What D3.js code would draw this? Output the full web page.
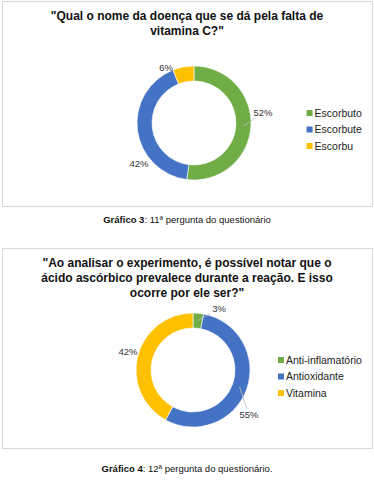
<!DOCTYPE html>
<html>
<head>
<meta charset="utf-8">
<script src="https://cdn.jsdelivr.net/npm/d3@7"></script>
<style>
  body { margin: 0; background: #fff; }
  svg { display: block; font-family: "Liberation Sans", Arial, sans-serif; }
</style>
</head>
<body>
<script>
// chart data
var q1Title = ['"Qual o nome da doença que se dá pela falta de', 'vitamina C?"'];
var q1Categories = ['Escorbuto', 'Escorbute', 'Escorbu'];
var q1Values = [52, 42, 6];
var q1Caption = ['Gráfico 3', ': 11ª pergunta do questionário'];

var q2Title = ['"Ao analisar o experimento, é possível notar que o',
               'ácido ascórbico prevalece durante a reação. E isso',
               'ocorre por ele ser?"'];
var q2Categories = ['Anti-inflamatório', 'Antioxidante', 'Vitamina'];
var q2Values = [3, 55, 42];
var q2Caption = ['Gráfico 4', ': 12ª pergunta do questionário.'];

var W = 374, H = 480;

var svg = d3.select('body').append('svg')
    .attr('width', W)
    .attr('height', H);

// layout for each panel; label offsets (dx,dy from centre) mimic Excel "best fit"
var panels = [
  {
    title: q1Title, cats: q1Categories, vals: q1Values, caption: q1Caption,
    colors: ['#70ad47', '#4472c4', '#ffc000'],
    box: {x: 2, y: 1, w: 370, h: 205},
    titleY: 20, cx: 194, cy: 123, captionY: 223,
    labels: [[69, -10, true], [-55, 41, false], [-28, -55, false]]
  },
  {
    title: q2Title, cats: q2Categories, vals: q2Values, caption: q2Caption,
    colors: ['#70ad47', '#4472c4', '#ffc000'],
    box: {x: 2, y: 248, w: 370, h: 200},
    titleY: 267, cx: 193, cy: 370, captionY: 472,
    labels: [[26, -61, true], [56, 45, true], [-65, -18, false]]
  }
];

var rOuter = 57, rInner = 42;

var pie = d3.pie().sort(null).value(function (d) { return d; });
var arc = d3.arc().innerRadius(rInner).outerRadius(rOuter);
var midArc = d3.arc().innerRadius((rInner + rOuter) / 2).outerRadius((rInner + rOuter) / 2);

panels.forEach(function (p) {
  var g = svg.append('g');

  g.append('rect')
    .attr('x', p.box.x + 0.5)
    .attr('y', p.box.y + 0.5)
    .attr('width', p.box.w)
    .attr('height', p.box.h)
    .attr('fill', '#fff')
    .attr('stroke', '#d9d9d9')
    .attr('stroke-width', 1);

  // title
  g.selectAll('text.title')
    .data(p.title)
    .enter()
    .append('text')
    .attr('class', 'title')
    .attr('x', W / 2)
    .attr('y', function (d, i) { return p.titleY + i * 15; })
    .attr('text-anchor', 'middle')
    .attr('font-size', '12px')
    .attr('font-weight', 'bold')
    .attr('fill', '#111')
    .text(function (d) { return d; });

  var arcs = pie(p.vals);
  var donut = g.append('g')
    .attr('transform', 'translate(' + p.cx + ',' + p.cy + ')');

  donut.selectAll('path')
    .data(arcs)
    .enter()
    .append('path')
    .attr('d', arc)
    .attr('fill', function (d, i) { return p.colors[i]; })
    .attr('stroke', '#fff')
    .attr('stroke-width', 0.6);

  // data labels
  arcs.forEach(function (a, i) {
    var lab = p.labels[i];
    var t = donut.append('text')
      .attr('x', lab[0])
      .attr('y', lab[1])
      .attr('dy', '0.35em')
      .attr('text-anchor', 'middle')
      .attr('font-size', '9.5px')
      .attr('fill', '#333')
      .text(a.data + '%');

    if (lab[2]) {
      var s = midArc.centroid(a);
      var bb = t.node().getBBox();
      // walk from label centre toward the ring until leaving the label box
      var dx = s[0] - lab[0], dy = s[1] - lab[1];
      var hw = bb.width / 2 + 1.5, hh = bb.height / 2;
      var k = Math.min(Math.abs(hw / (dx || 1e-6)), Math.abs(hh / (dy || 1e-6)));
      donut.append('line')
        .attr('x1', s[0])
        .attr('y1', s[1])
        .attr('x2', lab[0] + dx * k)
        .attr('y2', lab[1] + dy * k)
        .attr('stroke', '#bfbfbf')
        .attr('stroke-width', 0.8);
    }
  });

  // legend, right aligned like Excel
  var leg = g.append('g');
  var items = leg.selectAll('g')
    .data(p.cats)
    .enter()
    .append('g')
    .attr('transform', function (d, i) { return 'translate(0,' + (i * 16.5) + ')'; });

  items.append('rect')
    .attr('x', 0)
    .attr('y', -3)
    .attr('width', 6)
    .attr('height', 6)
    .attr('fill', function (d, i) { return p.colors[i]; });

  items.append('text')
    .attr('x', 8)
    .attr('y', 0)
    .attr('dy', '0.35em')
    .attr('font-size', '10.5px')
    .attr('fill', '#222')
    .text(function (d) { return d; });

  var lw = leg.node().getBBox().width;
  leg.attr('transform', 'translate(' + (362 - lw) + ',' + (p.cy - 10) + ')');

  // caption below the box
  var cap = g.append('text')
    .attr('x', W / 2)
    .attr('y', p.captionY)
    .attr('text-anchor', 'middle')
    .attr('font-size', '9.5px')
    .attr('fill', '#111');
  cap.append('tspan').attr('font-weight', 'bold').text(p.caption[0]);
  cap.append('tspan').text(p.caption[1]);
});
</script>
</body>
</html>
